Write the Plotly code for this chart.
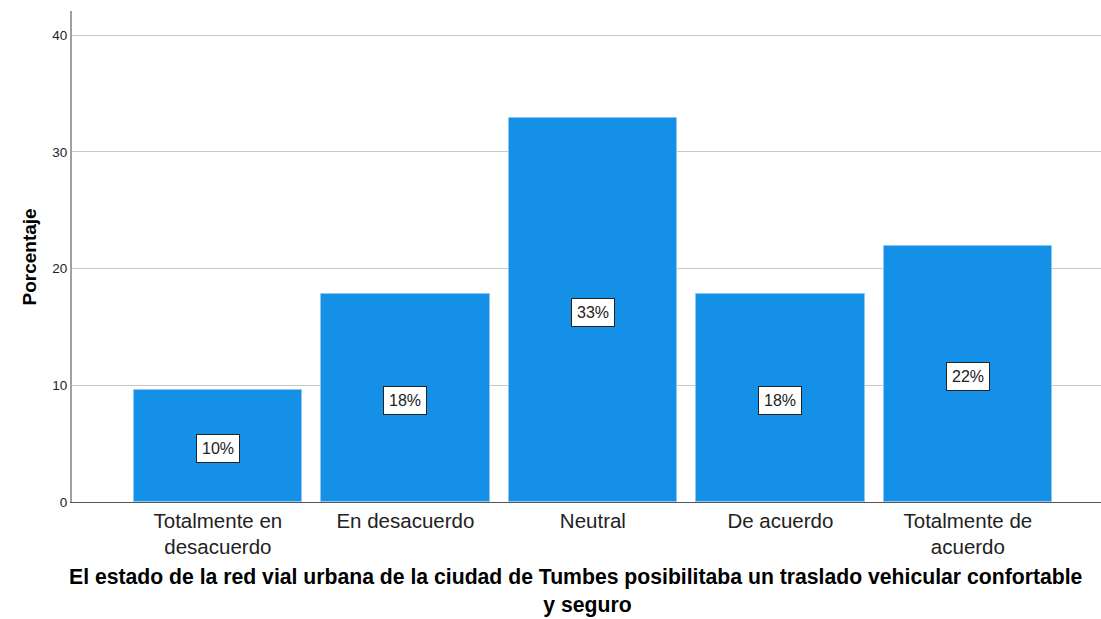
import plotly.graph_objects as go

# Survey response categories and percentages
categories = [
    "Totalmente en<br>desacuerdo",
    "En desacuerdo",
    "Neutral",
    "De acuerdo",
    "Totalmente de<br>acuerdo",
]
percentages = [9.6, 17.8, 32.9, 17.8, 21.9]
bar_labels = ["10%", "18%", "33%", "18%", "22%"]
y_ticks = [0, 10, 20, 30, 40]

x_title = ("El estado de la red vial urbana de la ciudad de Tumbes posibilitaba "
           "un traslado vehicular confortable<br>&nbsp;&nbsp;&nbsp;&nbsp;y seguro")

FONT = "Liberation Sans, Arial, sans-serif"
positions = list(range(len(categories)))

fig = go.Figure()

fig.add_trace(
    go.Bar(
        x=positions,
        y=percentages,
        width=0.9,
        marker=dict(color="#1490e6", line=dict(color="#8cc8f2", width=1)),
        hoverinfo="skip",
        showlegend=False,
    )
)

# Percentage labels in boxes at mid-height of each bar
for pos, val, lab in zip(positions, percentages, bar_labels):
    fig.add_annotation(
        x=pos,
        y=val / 2 - 0.22,
        text=lab,
        showarrow=False,
        font=dict(family=FONT, size=16, color="#222222"),
        bgcolor="white",
        bordercolor="#222222",
        borderwidth=1,
        borderpad=5,
    )

fig.add_annotation(
    xref="paper", yref="paper",
    x=-0.053, y=0.5,
    text="<b>Porcentaje</b>",
    textangle=-90,
    showarrow=False,
    font=dict(family=FONT, size=19, color="black"),
)

# x-axis title (bold, two lines, under the plot)
fig.add_annotation(
    xref="paper", yref="paper",
    x=0.49, y=-0.236,
    xanchor="center", yanchor="bottom",
    text=f"<b>{x_title}</b>",
    showarrow=False,
    borderpad=0,
    font=dict(family=FONT, size=21.2, color="black"),
)

fig.update_layout(
    width=1101,
    height=619,
    margin=dict(l=72, r=0, t=11, b=117),
    paper_bgcolor="white",
    plot_bgcolor="white",
    bargap=0,
)

fig.update_xaxes(
    range=[-0.778, 4.71],
    tickmode="array",
    tickvals=positions,
    ticktext=categories,
    tickfont=dict(family=FONT, size=20.5, color="#222222"),
    showgrid=False,
    showline=True,
    linecolor="#555555",
    linewidth=1,
    ticks="",
    zeroline=False,
)

fig.update_yaxes(
    range=[0, 42.06],
    tickmode="array",
    tickvals=y_ticks,
    tickfont=dict(family=FONT, size=13.5, color="#222222"),
    showgrid=True,
    gridcolor="#c8c8c8",
    gridwidth=1,
    showline=True,
    linecolor="#a0a0a0",
    linewidth=2,
    ticks="",
    zeroline=False,
)

fig.write_html(
    "out.html",
    config={"displayModeBar": False},
    post_script="document.body.style.margin='0';",
)
